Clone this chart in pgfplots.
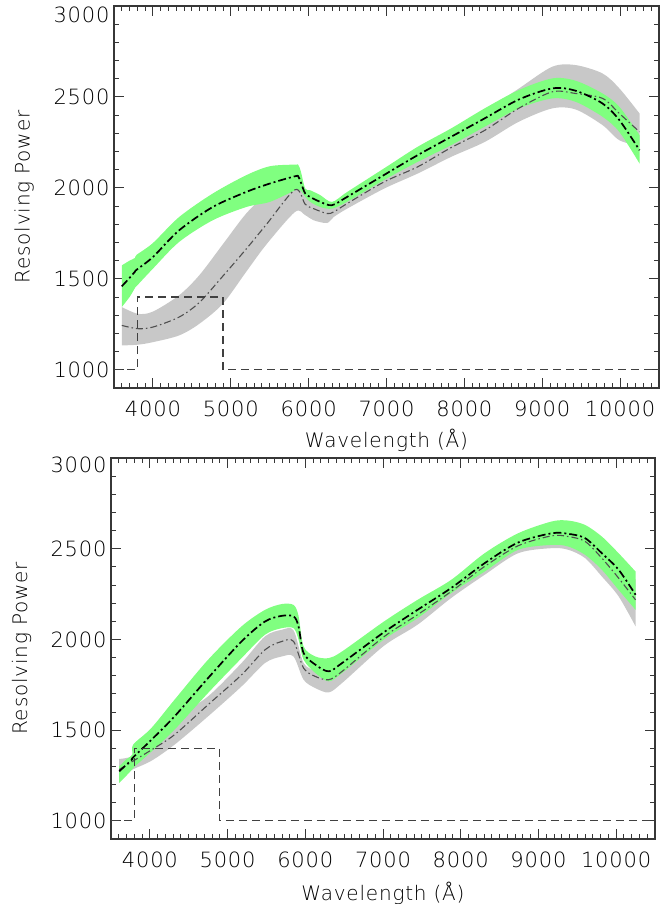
\documentclass[border=0pt]{standalone}
\usepackage{fontspec}
\setmainfont{DejaVu Sans ExtraLight}[LetterSpace=4]
\usepackage{pgfplots}
\usepackage{pgfplotstable}
\pgfplotsset{compat=1.18}
\usepgfplotslibrary{fillbetween}
\definecolor{bandgreen}{RGB}{128,255,128}
\definecolor{bandgray}{RGB}{200,200,200}
\definecolor{axgray}{RGB}{55,55,55}
\definecolor{linegray}{RGB}{80,80,80}

% top panel, green band (model 1)
\pgfplotstableread{
x c lo hi
3600 1459 1345 1574
3700 1505 1400 1600
3770 1540 1450 1615
3790 1550 1460 1632
4000 1620 1556 1697
4337 1767 1703 1840
4768 1895 1822 1969
5200 1978 1895 2070
5502 2024 1923 2119
5826 2064 1987 2128
5869 2061 1990 2125
5900 2030 1985 2090
5956 1969 1950 1996
6020 1950 1923 1987
6150 1923 1895 1960
6300 1905 1886 1923
6500 1952 1925 1979
7000 2079 2051 2116
7400 2180 2143 2226
7830 2281 2235 2327
8260 2382 2336 2437
8700 2486 2437 2538
9130 2547 2492 2602
9430 2534 2473 2589
9775 2464 2391 2519
9990 2373 2308 2446
10250 2207 2134 2290
}\TopGreen

% top panel, gray band (model 2)
\pgfplotstableread{
x c lo hi
3600 1244 1134 1345
3806 1226 1138 1308
4000 1235 1152 1320
4337 1290 1189 1410
4596 1370 1253 1520
4898 1515 1363 1690
5200 1665 1540 1860
5459 1800 1690 1960
5826 1990 1868 2020
5956 1910 1850 1970
6063 1886 1822 1914
6236 1859 1807 1895
6322 1868 1840 1890
6495 1914 1886 1941
6969 2033 1996 2060
7401 2116 2079 2152
7832 2222 2171 2262
8264 2317 2253 2420
8696 2437 2363 2545
9128 2528 2437 2666
9430 2519 2431 2675
9775 2492 2345 2629
9991 2409 2262 2547
10250 2308 2230 2409
}\TopGray

% bottom panel, green band (model 1)
\pgfplotstableread{
x c lo hi
3606 1273 1209 1301
3700 1310 1250 1340
3775 1340 1285 1365
3785 1350 1292 1420
4016 1445 1380 1510
4318 1576 1503 1668
4749 1787 1705 1888
5180 1989 1897 2072
5482 2099 2026 2163
5698 2130 2062 2195
5849 2127 2062 2190
5913 2072 2000 2130
5978 1925 1888 1961
6129 1861 1815 1906
6301 1824 1769 1897
6474 1870 1815 1934
7013 2040 2000 2099
7444 2163 2117 2218
7876 2283 2255 2328
8307 2420 2374 2475
8738 2534 2494 2585
9170 2585 2521 2650
9385 2582 2512 2655
9601 2558 2466 2631
9816 2475 2384 2567
10032 2384 2273 2475
10250 2246 2163 2374
}\BotGreen

% bottom panel, gray band (model 2)
\pgfplotstableread{
x c lo hi
3606 1283 1237 1341
3778 1328 1283 1356
4016 1390 1330 1420
4318 1475 1420 1560
4749 1640 1576 1686
5180 1805 1741 1870
5482 1943 1870 2017
5698 1989 1906 2053
5849 1989 1906 2050
5978 1842 1778 1870
6129 1796 1732 1830
6301 1778 1708 1815
6474 1824 1760 1850
7013 2015 1965 2050
7444 2136 2081 2170
7876 2264 2228 2290
8307 2402 2356 2440
8738 2516 2475 2550
9170 2571 2503 2610
9385 2567 2494 2610
9601 2540 2448 2590
9816 2448 2347 2520
10032 2338 2237 2420
10250 2218 2072 2330
}\BotGray

\pgfplotsset{rpstyle/.style={
  scale only axis, anchor=south west,
  xmin=3500, xmax=10500, ymin=900, ymax=3000,
  scaled x ticks=false, scaled y ticks=false,
  xtick={4000,5000,...,10000}, minor xtick={3500,3600,...,10500},
  ytick={1000,1500,2000,2500}, extra y ticks={3000},
  minor ytick={900,1000,...,3000},
  major tick length=10pt, minor tick length=5pt,
  tick style={axgray, line width=0.9pt},
  axis line style={axgray, line width=1.1pt},
  /pgf/number format/assume math mode=true,
  /pgf/number format/1000 sep={},
  ticklabel style={font=\fontsize{21}{25}\selectfont, text=black},
  xticklabel style={yshift=-9pt},
  yticklabel style={xshift=-1pt},
  xlabel={Wavelength\hspace{7pt}(Å)}, ylabel={Resolving\hspace{7pt}Power},
  label style={font=\fontsize{20}{24}\selectfont, text=black},
  clip=true,
}}

\begin{document}
\begin{tikzpicture}
% ---------- top panel ----------
\begin{axis}[rpstyle, at={(114pt,516pt)}, width=545pt, height=382pt,
  extra y tick style={yticklabel style={yshift=-9pt}},
  xlabel style={at={(axis description cs:0.5,-0.136)}, anchor=center},
  ylabel style={at={(axis description cs:-0.165,0.5)}, anchor=center}]
\addplot[draw=none, name path=tgl, smooth, tension=0.5] table[x=x,y=lo]{\TopGray};
\addplot[draw=none, name path=tgh, smooth, tension=0.5] table[x=x,y=hi]{\TopGray};
\addplot[bandgray, draw=none] fill between[of=tgl and tgh];
\addplot[draw=none, name path=tnl, smooth, tension=0.5] table[x=x,y=lo]{\TopGreen};
\addplot[draw=none, name path=tnh, smooth, tension=0.5] table[x=x,y=hi]{\TopGreen};
\addplot[bandgreen, draw=none] fill between[of=tnl and tnh];
\addplot[linegray, line width=1.1pt, dash pattern=on 7pt off 3pt on 1.5pt off 3pt, smooth, tension=0.5] table[x=x,y=c]{\TopGray};
\addplot[black, line width=1.7pt, dash pattern=on 8pt off 3pt on 2pt off 3pt, smooth, tension=0.5] table[x=x,y=c]{\TopGreen};
\addplot[black!75, line width=1.1pt, dash pattern=on 8pt off 5pt] coordinates {(3500,1000) (3800,1000) (3800,1400) (4900,1400) (4900,1000) (10500,1000)};
\end{axis}
% ---------- bottom panel ----------
\begin{axis}[rpstyle, at={(111pt,65pt)}, width=544pt, height=381pt,
  extra y tick style={yticklabel style={yshift=-7pt}},
  xlabel style={at={(axis description cs:0.5,-0.142)}, anchor=center},
  ylabel style={at={(axis description cs:-0.1645,0.5)}, anchor=center}]
\addplot[draw=none, name path=bgl, smooth, tension=0.5] table[x=x,y=lo]{\BotGray};
\addplot[draw=none, name path=bgh, smooth, tension=0.5] table[x=x,y=hi]{\BotGray};
\addplot[bandgray, draw=none] fill between[of=bgl and bgh];
\addplot[draw=none, name path=bnl, smooth, tension=0.5] table[x=x,y=lo]{\BotGreen};
\addplot[draw=none, name path=bnh, smooth, tension=0.5] table[x=x,y=hi]{\BotGreen};
\addplot[bandgreen, draw=none] fill between[of=bnl and bnh];
\addplot[linegray, line width=1.1pt, dash pattern=on 7pt off 3pt on 1.5pt off 3pt, smooth, tension=0.5] table[x=x,y=c]{\BotGray};
\addplot[black, line width=1.7pt, dash pattern=on 8pt off 3pt on 2pt off 3pt, smooth, tension=0.5] table[x=x,y=c]{\BotGreen};
\addplot[black!75, line width=1.1pt, dash pattern=on 8pt off 5pt] coordinates {(3500,1000) (3800,1000) (3800,1400) (4900,1400) (4900,1000) (10500,1000)};
\end{axis}
\pgfresetboundingbox
\path[use as bounding box] (0,0) rectangle (665pt,904pt);
\end{tikzpicture}
\end{document}
